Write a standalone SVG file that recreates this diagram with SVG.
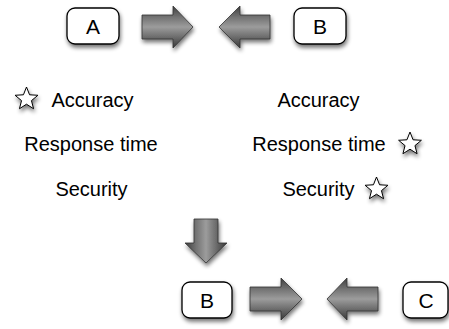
<svg xmlns="http://www.w3.org/2000/svg" xmlns:xlink="http://www.w3.org/1999/xlink" width="449" height="329" viewBox="0 0 449 329">
<style>
.box{fill:#fff;stroke:#000;stroke-width:1.3;filter:url(#sh)}
.letter{font-family:"Liberation Sans",Arial,sans-serif;font-size:21px;text-anchor:middle;fill:#000}
.lbl{font-family:"Liberation Sans",Arial,sans-serif;font-size:20px;text-anchor:middle;fill:#000}
.arr{stroke:#333;stroke-width:0.8;filter:url(#sh)}
.h{fill:url(#gh)}
.v{fill:url(#gv)}
.star{fill:#fff;stroke:#000;stroke-width:1;filter:url(#sh)}
</style>
<defs>
<filter id="sh" x="-30%" y="-30%" width="160%" height="170%">
<feGaussianBlur in="SourceAlpha" stdDeviation="2"/>
<feOffset dx="1" dy="3" result="b"/>
<feComponentTransfer><feFuncA type="linear" slope="0.55"/></feComponentTransfer>
<feMerge><feMergeNode/><feMergeNode in="SourceGraphic"/></feMerge>
</filter>
<linearGradient id="gh" x1="0" y1="0" x2="0" y2="1">
<stop offset="0" stop-color="#3e3e3e"/>
<stop offset="0.25" stop-color="#707070"/>
<stop offset="0.5" stop-color="#9c9c9c"/>
<stop offset="0.75" stop-color="#6a6a6a"/>
<stop offset="1" stop-color="#383838"/>
</linearGradient>
<linearGradient id="gv" x1="0" y1="0" x2="1" y2="0">
<stop offset="0" stop-color="#3e3e3e"/>
<stop offset="0.25" stop-color="#707070"/>
<stop offset="0.5" stop-color="#9c9c9c"/>
<stop offset="0.75" stop-color="#6a6a6a"/>
<stop offset="1" stop-color="#383838"/>
</linearGradient>
<polygon id="st" points="0,-12 3.06,-4.21 11.41,-3.71 4.95,1.61 7.05,9.71 0,5.2 -7.05,9.71 -4.95,1.61 -11.41,-3.71 -3.06,-4.21"/>
</defs>
<g id="connectors">
<polygon class="arr h" points="142,15 173,15 173,6 193,27 173,48 173,39 142,39"/>
<polygon class="arr h" points="219,27 240,6 240,15 270,15 270,39 240,39 240,48"/>
<polygon class="arr v" points="194,219 218,219 218,243 227,243 206,263 185,243 194,243"/>
<polygon class="arr h" points="250,287 281,287 281,278 302,299 281,320 281,311 250,311"/>
<polygon class="arr h" points="327,299 347,278 347,287 378,287 378,311 347,311 347,320"/>
</g>
<g id="nodeA">
<rect class="box" x="67" y="8" width="52" height="36" rx="8"/>
<text class="letter" x="93" y="33.5">A</text>
</g>
<g id="nodeB">
<rect class="box" x="294" y="8" width="52" height="36" rx="8"/>
<text class="letter" x="320" y="33.5">B</text>
</g>
<g id="nodeB2">
<rect class="box" x="182" y="282" width="50" height="36" rx="8"/>
<text class="letter" x="207" y="307.5">B</text>
</g>
<g id="nodeC">
<rect class="box" x="403" y="282" width="45" height="36" rx="8"/>
<text class="letter" x="426" y="307.5">C</text>
</g>
<g id="labelsLeft">
<use href="#st" class="star" x="26.5" y="99"/>
<text class="lbl" x="92.5" y="107">Accuracy</text>
<text class="lbl" x="91" y="151">Response time</text>
<text class="lbl" x="91.5" y="196">Security</text>
</g>
<g id="labelsRight">
<text class="lbl" x="318.5" y="107">Accuracy</text>
<text class="lbl" x="319" y="151">Response time</text>
<use href="#st" class="star" x="410" y="144"/>
<text class="lbl" x="318.5" y="196">Security</text>
<use href="#st" class="star" x="376.5" y="189"/>
</g>
</svg>
